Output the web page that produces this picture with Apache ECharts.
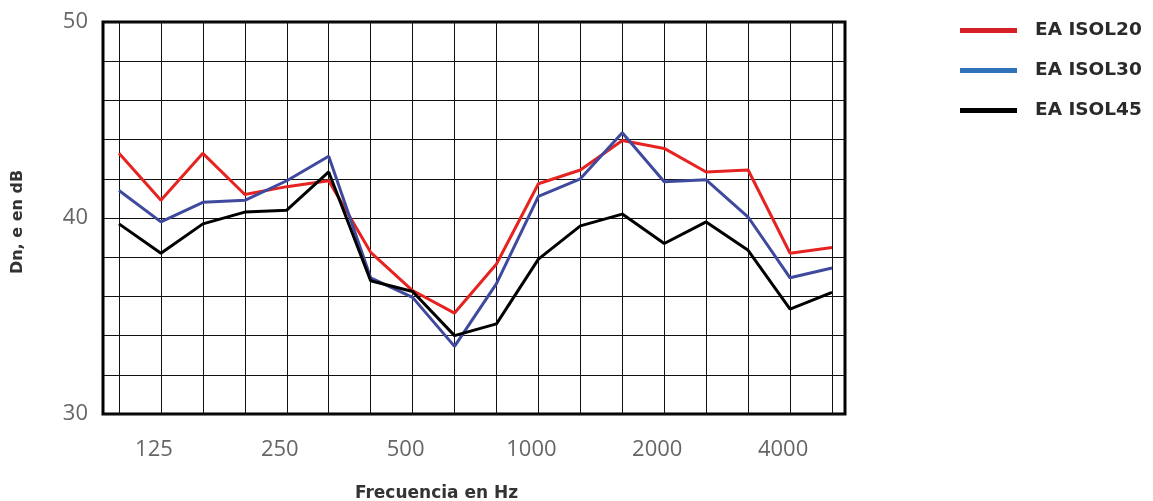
<!DOCTYPE html>
<html>
<head>
<meta charset="utf-8">
<script src="https://cdn.jsdelivr.net/npm/echarts@6/dist/echarts.min.js"></script>
<style>
html,body{margin:0;padding:0;background:#fff;}
#c{width:1153px;height:501px;}
</style>
</head>
<body>
<div id="c"></div>
<script>
const frequencies = ['100','125','160','200','250','315','400','500','630','800','1000','1250','1600','2000','2500','3150','4000','5000'];
const yTickLabels = [30, 40, 50];
const seriesNames = ['EA ISOL20', 'EA ISOL30', 'EA ISOL45'];
const isol20 = [43.3, 40.9, 43.3, 41.2, 41.6, 41.9, 38.25, 36.3, 35.15, 37.65, 41.75, 42.45, 43.95, 43.55, 42.35, 42.45, 38.2, 38.5];
const isol30 = [41.4, 39.8, 40.8, 40.9, 41.9, 43.15, 36.95, 35.95, 33.45, 36.65, 41.1, 42.0, 44.35, 41.85, 41.95, 40.05, 36.95, 37.45];
const isol45 = [39.7, 38.2, 39.7, 40.3, 40.4, 42.35, 36.8, 36.25, 34.0, 34.6, 37.9, 39.6, 40.2, 38.7, 39.8, 38.35, 35.35, 36.2];

const chart = echarts.init(document.getElementById('c'));
const labelFont = '"Open Sans", sans-serif';
const boldFont = '"DejaVu Sans", sans-serif';
chart.setOption({
  animation: false,
  backgroundColor: '#fff',
  legend: {
    orient: 'vertical',
    left: 955,
    top: 15,
    icon: 'rect',
    itemWidth: 57,
    itemHeight: 5,
    itemGap: 19,
    textStyle: { fontFamily: boldFont, fontWeight: 'bold', fontSize: 18.5, color: '#2a2a2a', lineHeight: 21, padding: [0, 0, 0, 13] },
    data: [
      { name: seriesNames[0], itemStyle: { color: '#d71f26' } },
      { name: seriesNames[1], itemStyle: { color: '#2f72b9' } },
      { name: seriesNames[2], itemStyle: { color: '#000000' } }
    ]
  },
  grid: [
    { left: 103, right: 308, top: 22, bottom: 87, show: true, borderColor: '#000', borderWidth: 3, backgroundColor: 'transparent', outerBoundsMode: 'none', containLabel: false },
    { left: 119, right: 321, top: 22, bottom: 87, outerBoundsMode: 'none', containLabel: false }
  ],
  xAxis: [
    { gridIndex: 0, type: 'value', min: 0, max: 1, show: false },
    {
      gridIndex: 1, type: 'category', boundaryGap: false, data: frequencies,
      axisLine: { show: false }, axisTick: { show: false },
      splitLine: { show: true, interval: 0, lineStyle: { color: '#111', width: 1 } },
      axisLabel: {
        interval: function (i) { return i % 3 === 1; },
        fontFamily: labelFont, fontSize: 22, color: '#666', margin: 25,
        padding: [0, 14, 0, 0]
      },
      name: 'Frecuencia en Hz', nameLocation: 'middle', nameGap: 71,
      nameTextStyle: { fontFamily: boldFont, fontWeight: 'bold', fontSize: 17, color: '#333', padding: [0, 78, 0, 0] }
    }
  ],
  yAxis: [
    {
      gridIndex: 0, type: 'value', min: 30, max: 50, interval: 2,
      axisLine: { show: false }, axisTick: { show: false },
      splitLine: { show: true, lineStyle: { color: '#111', width: 1 } },
      axisLabel: {
        fontFamily: labelFont, fontSize: 22, color: '#666', margin: 15,
        formatter: function (v) { return yTickLabels.indexOf(v) >= 0 ? String(v) : ''; }
      },
      name: 'Dn, e en dB', nameLocation: 'middle', nameGap: 77, nameRotate: 90,
      nameTextStyle: { fontFamily: boldFont, fontWeight: 'bold', fontSize: 16, color: '#333', padding: [0, 8, 0, 0] }
    },
    { gridIndex: 1, type: 'value', min: 30, max: 50, show: false }
  ],
  series: [
    { name: seriesNames[0], type: 'line', xAxisIndex: 1, yAxisIndex: 1, data: isol20, symbol: 'none', lineStyle: { color: '#e52421', width: 3 }, itemStyle: { color: '#e52421' } },
    { name: seriesNames[1], type: 'line', xAxisIndex: 1, yAxisIndex: 1, data: isol30, symbol: 'none', lineStyle: { color: '#3f4a9e', width: 3 }, itemStyle: { color: '#3f4a9e' } },
    { name: seriesNames[2], type: 'line', xAxisIndex: 1, yAxisIndex: 1, data: isol45, symbol: 'none', lineStyle: { color: '#000', width: 3 }, itemStyle: { color: '#000' } }
  ]
});
</script>
</body>
</html>
